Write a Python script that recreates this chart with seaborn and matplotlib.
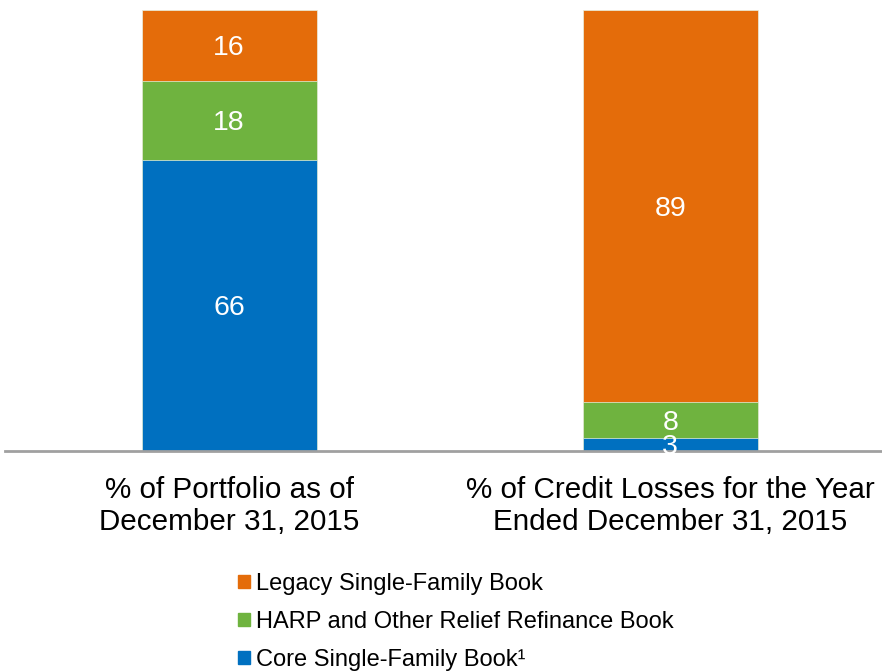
import pandas as pd
import numpy as np
import matplotlib
matplotlib.use('Agg')
import matplotlib.pyplot as plt
import seaborn as sns
from matplotlib.patches import Patch

# chart data
categories = ['% of Portfolio as of\nDecember 31, 2015',
              '% of Credit Losses for the Year\nEnded December 31, 2015']
series = ['Core Single-Family Book\u00b9',
          'HARP and Other Relief Refinance Book',
          'Legacy Single-Family Book']
core = [66, 3]
harp = [18, 8]
legacy = [16, 89]
colors = ['#0070C0', '#6FB33F', '#E46C0A']

sns.set_style('white')
plt.rcParams['font.family'] = ['Liberation Sans', 'DejaVu Sans']
plt.rcParams['text.color'] = 'black'
plt.rcParams['xtick.color'] = 'black'

df = pd.DataFrame({'cat': categories, 'core': core, 'harp': harp, 'legacy': legacy})
df['c1'] = df['core']
df['c2'] = df['core'] + df['harp']
df['c3'] = df['c2'] + df['legacy']

fig = plt.figure(figsize=(8.82, 6.71), dpi=100)
ax = fig.add_axes([5 / 882, 1 - 451 / 671, 1 - 5 / 882, 441 / 671])

# stacked look: draw cumulative totals from tallest to shortest
for col, color in zip(['c3', 'c2', 'c1'], colors[::-1]):
    sns.barplot(data=df, x='cat', y=col, color=color, width=0.397,
                saturation=1, ax=ax, edgecolor='#E8F0E0', linewidth=0.5)

# value labels at segment centres
for i in range(len(categories)):
    bottoms = [0, df['c1'][i], df['c2'][i]]
    vals = [core[i], harp[i], legacy[i]]
    for b, v in zip(bottoms, vals):
        ax.text(i, b + v / 2, str(v), ha='center', va='center_baseline',
                color='white', fontsize=20.5)

ax.set_ylim(0, 100)
ax.set_xlim(-0.508, 1.48)
ax.set_xlabel('')
ax.set_ylabel('')
ax.set_yticks([])
for s in ['top', 'right', 'left']:
    ax.spines[s].set_visible(False)
ax.spines['bottom'].set_color('#A0A0A0')
ax.spines['bottom'].set_linewidth(2)
ax.tick_params(axis='x', length=0, pad=18, labelsize=21.3, labelcolor='black')

handles = [Patch(color=c) for c in colors[::-1]]
fig.legend(handles, series[::-1], loc='upper left',
           bbox_to_anchor=(226 / 882, 1 - 561 / 671), frameon=False,
           fontsize=17, handlelength=0.5, handleheight=0.5,
           handletextpad=0.25, labelspacing=0.68, borderpad=0,
           labelcolor='black')

fig.savefig('out.png', dpi=100)
